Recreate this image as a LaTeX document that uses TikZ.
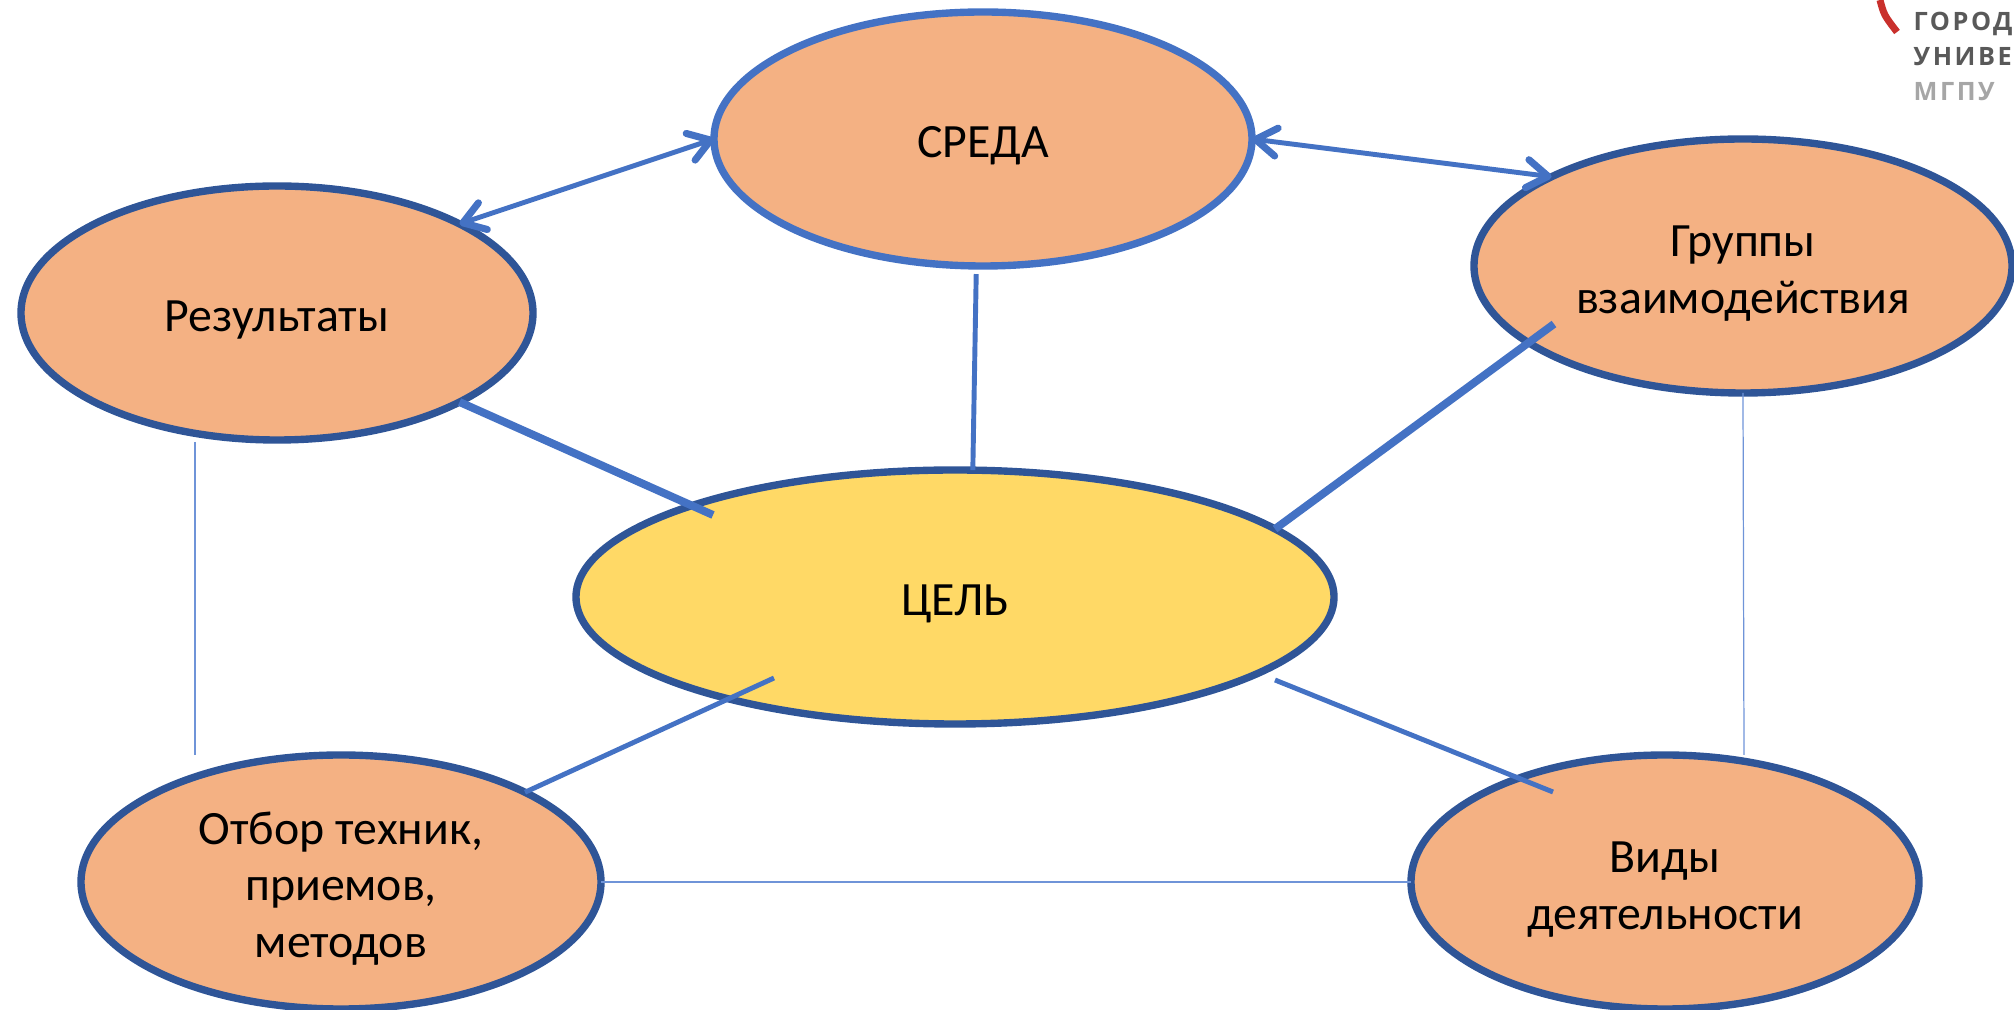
\documentclass[tikz,border=0pt]{standalone}
\usepackage{fontspec}
\setmainfont{Carlito}
\newfontfamily\logofont[LetterSpace=10]{Open Sans}
\usepackage{xcolor}
\usepackage{tikz}
\usetikzlibrary{shapes.geometric,arrows.meta}
\definecolor{ovalfill}{HTML}{F4B183}
\definecolor{goalfill}{HTML}{FFD966}
\definecolor{darkline}{HTML}{2F5597}
\definecolor{midline}{HTML}{4472C4}
\definecolor{thinline}{HTML}{6F94D8}
\definecolor{logored}{HTML}{C9302C}
\tikzset{
	oval/.style={ellipse,draw=darkline,line width=2.1pt,fill=ovalfill,inner sep=0pt,outer sep=0pt,minimum height=2.54cm,align=center,text=black,font=\fontsize{13.6}{16}\selectfont,raised=12.5pt},
	raised/.style={execute at begin node={\rule{0pt}{#1}}},
	link/.style={color=midline,line width=1.4pt},
	fatlink/.style={color=midline,line width=2.25pt},
	hairlink/.style={color=thinline,line width=0.35pt},
	barb/.tip={Straight Barb[length=6pt,width=8pt,line width=2pt,round]},
	twoway/.style={link,line cap=round,barb-barb},
	logotext/.style={anchor=west,inner sep=0pt,font=\logofont\bfseries\fontsize{7.2}{8}\selectfont}
}
\begin{document}
\begin{tikzpicture}[line join=round,x=1.0cm,y=1.0cm]
		\useasboundingbox (0,0) rectangle (20.14,10.10);
		\node[oval,minimum width=5.38cm,draw=midline] (sreda) at (9.83,8.71) {СРЕДА};
		\node[oval,minimum width=5.12cm] (rezultaty) at (2.77,6.97) {Результаты};
		\node[oval,minimum width=5.38cm,raised=29pt] (gruppy) at (17.43,7.44) {Группы\\взаимодействия};
		\node[oval,minimum width=7.58cm,fill=goalfill] (tsel) at (9.55,4.13) {ЦЕЛЬ};
		\node[oval,minimum width=5.20cm,raised=45pt] (otbor) at (3.41,1.28) {Отбор техник,\\приемов,\\методов};
		\node[oval,minimum width=5.08cm,raised=29pt] (vidy) at (16.65,1.28) {Виды\\деятельности};
		% free ends
		\coordinate (rezIn) at (7.13,4.95);
		\coordinate (grIn) at (15.54,6.86);
		\coordinate (tselOt) at (7.74,3.32);
		\coordinate (tselVi) at (12.75,3.30);
		\coordinate (viIn) at (15.53,2.18);
		\coordinate (rezLow) at (1.95,5.68);
		\coordinate (otTop) at (1.95,2.55);
		\coordinate (viTop) at (17.44,2.55);
		% arrows
		\draw[twoway] (rezultaty.26) -- (sreda.180);
		\draw[twoway] (sreda.0) -- (gruppy.155);
		% lines to the goal
		\draw[link,shorten <=2.3pt] (sreda.-93) -- (tsel.82);
		\draw[fatlink] (rezultaty.-26) -- (rezIn);
		\draw[fatlink] (grIn) -- (tsel.12);
		\draw[link] (tselOt) -- (otbor.26);
		\draw[link] (tselVi) -- (viIn);
		% thin lines
		\draw[hairlink] (rezLow) -- (otTop);
		\draw[hairlink] (gruppy.south) -- (viTop);
		\draw[hairlink] (otbor.east) -- (vidy.west);
		% logo
		\draw[color=logored,line width=2pt] (18.80,10.10) .. controls (18.84,9.95) .. (18.97,9.78);
		\node[logotext,text=black!65] (logoA) at (19.13,9.865) {ГОРОД};
		\node[logotext,text=black!65] (logoB) at (19.13,9.53) {УНИВЕР};
		\node[logotext,text=black!35] (logoC) at (19.13,9.18) {МГПУ};
\end{tikzpicture}
\end{document}
